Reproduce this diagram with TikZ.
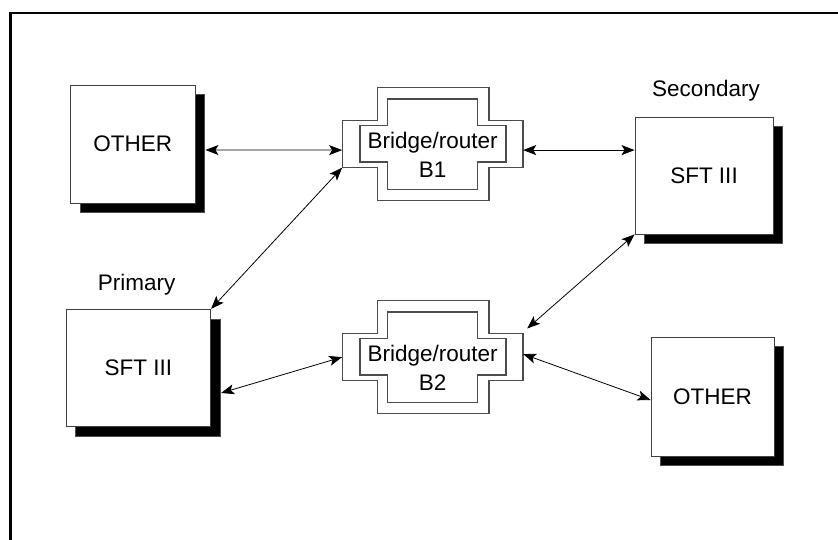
\documentclass[tikz,border=0pt]{standalone}
\usepackage{fontspec}
\setmainfont{Liberation Sans}
\usetikzlibrary{arrows.meta,shadows,calc}
\begin{document}
\begin{tikzpicture}[x=1pt,y=-1pt,
  lbl/.style={font=\fontsize{22.5}{28.7}\selectfont, inner sep=0pt, align=center},
  box/.style={lbl, draw=black!75, line width=0.9pt, fill=white,
     drop shadow={shadow xshift=9.5pt, shadow yshift=-9.5pt, fill=black, opacity=1, draw=black!70, line width=0.6pt}},
  bridgeline/.style={draw=black!70, line width=1.1pt},
  arr/.style={{Stealth[length=13pt,width=10pt,inset=3pt]}-{Stealth[length=13pt,width=10pt,inset=3pt]}, line width=0.8pt, black},
  wide/.style={minimum width=180.7pt, minimum height=46.8pt, inner sep=0pt, draw=none}
]
\useasboundingbox (0,0) rectangle (838,540);
% frame
\draw[line width=2.2pt] (10.5,541) -- (10.5,13) -- (839,13);

% boxes
\node[box, minimum width=124.3pt, minimum height=118pt] (other1) at (132.85,144) {OTHER};
\node[box, minimum width=138pt, minimum height=116.7pt] (secondary) at (704,175.65) {SFT III};
\node[box, minimum width=144.7pt, minimum height=117.4pt] (primary) at (138.35,368) {SFT III};
\node[box, minimum width=123pt, minimum height=119pt] (other2) at (712.5,396.5) {OTHER};

\node[lbl] (seclbl) at (706,90.7) {Secondary};
\node[lbl] (primlbl) at (136.7,285) {Primary};

% bridges
\foreach \dy/\nm/\txt in {0/b1/B1, 213/b2/B2}{
\begin{scope}[shift={(0,\dy)}]
  \draw[bridgeline] (377.7,87.7) -- (489,87.7) -- (489,120.7) -- (523,120.7) -- (523,167.5)
     -- (489,167.5) -- (489,200.5) -- (377.7,200.5) -- (377.7,167.5) -- (342.3,167.5)
     -- (342.3,120.7) -- (377.7,120.7) -- cycle;
  \draw[bridgeline] (387.7,99) -- (477.7,99) -- (477.7,125.7) -- (506,125.7) -- (506,162)
     -- (477.7,162) -- (477.7,189.7) -- (387.7,189.7) -- (387.7,162) -- (360,162)
     -- (360,125.7) -- (387.7,125.7) -- cycle;
  \node[wide] (\nm w) at (432.65,144.1) {};
  \node[lbl] (\nm) at (432.65,155) {Bridge/router\\\txt};
\end{scope}
}

% connectors
\draw[arr] ([xshift=10pt,yshift=-6pt]other1.east) -- ([yshift=-6pt]b1w.west);
\draw[arr] ([yshift=-6pt]b1w.east) -- ([yshift=-6pt]b1w.east -| secondary.west);
\draw[arr] (b1w.south west) -- (primary.north east);
\draw[arr] (secondary.south west) -- ([xshift=4pt,yshift=5pt]b2w.north east);
\draw[arr] ([xshift=10pt,yshift=-25pt]primary.east) -- (b2w.west);
\draw[arr] ([yshift=3pt]b2w.east) -- ([yshift=-3.5pt]other2.west);
\end{tikzpicture}
\end{document}
